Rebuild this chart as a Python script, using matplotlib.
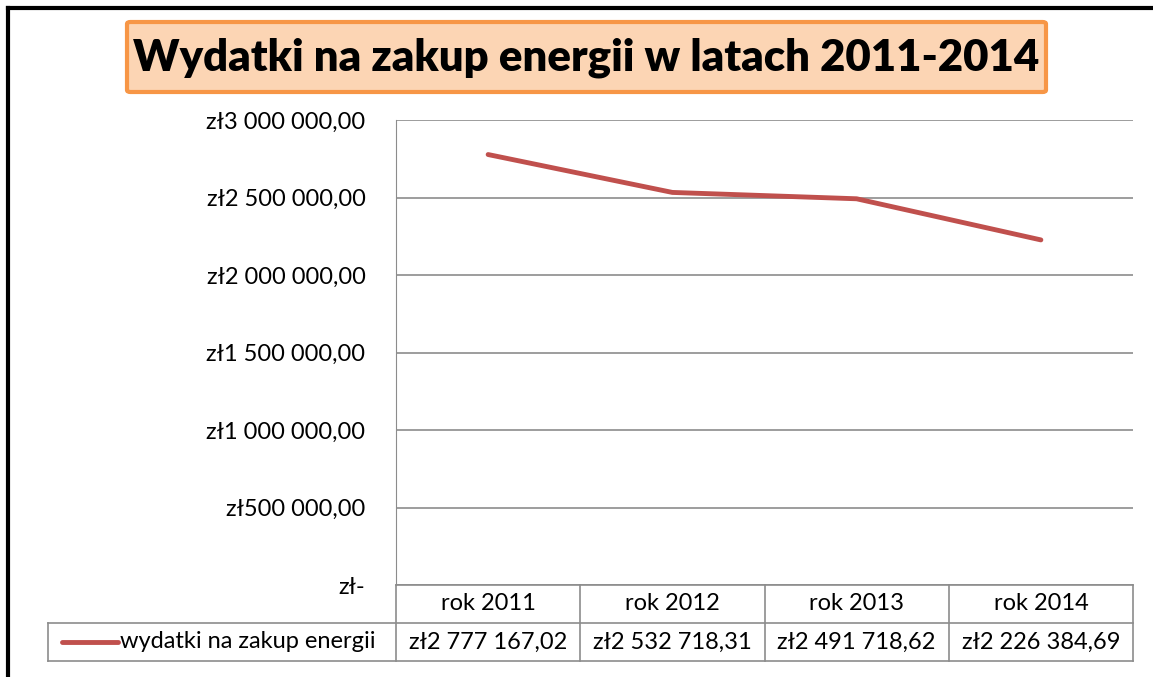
import matplotlib.pyplot as plt
from matplotlib.lines import Line2D
from matplotlib.patches import FancyBboxPatch

plt.rcParams['font.family'] = ['Lato', 'DejaVu Sans']

# dane
categories = ['rok 2011', 'rok 2012', 'rok 2013', 'rok 2014']
values = [2777167.02, 2532718.31, 2491718.62, 2226384.69]
series_name = 'wydatki na zakup energii'
y_ticks = [0, 500000, 1000000, 1500000, 2000000, 2500000, 3000000]

LINE_COLOR = '#C0504D'
GRID = '#8c8c8c'
W, H = 1153, 677
FS = 17


def zl(v):
    """format waluty jak w Excelu"""
    if v == 0:
        return 'zł-'
    s = f'{v:,.2f}'.replace(',', ' ').replace('.', ',')
    return 'zł' + s


fig = plt.figure(figsize=(W / 100, H / 100), dpi=100)
fig.patch.set_facecolor('white')

# ramka wykresu (lewa i gorna krawedz)
fig.add_artist(Line2D([8 / W, 8 / W], [0, 1 - 8 / H], color='black', lw=3))
fig.add_artist(Line2D([8 / W, 1], [1 - 8 / H, 1 - 8 / H], color='black', lw=3))

# tytul w pomaranczowej ramce
box = FancyBboxPatch((127 / W, 1 - 92 / H), (1046 - 127) / W, (92 - 22) / H,
                     boxstyle='round,pad=0,rounding_size=0.003',
                     transform=fig.transFigure, facecolor='#FCD5B4',
                     edgecolor='#F79646', lw=3)
fig.add_artist(box)
fig.text(586 / W, 1 - 58 / H, 'Wydatki na zakup energii w latach 2011-2014',
         ha='center', va='center', fontsize=31.5, weight='heavy', color='black')

left, right, top, bottom = 396, 1133, 120, 585
ax = fig.add_axes([left / W, 1 - bottom / H, (right - left) / W, (bottom - top) / H])

x = [i + 0.5 for i in range(len(categories))]
ax.plot(x, values, color=LINE_COLOR, lw=3.5, solid_capstyle='round')

ax.set_xlim(0, len(categories))
ax.set_ylim(0, 3000000)
ax.set_yticks(y_ticks)
ax.set_yticklabels([zl(v) for v in y_ticks], fontsize=FS)
ax.tick_params(axis='y', length=0, pad=22)
ax.set_xticks([])
ax.grid(axis='y', color=GRID, lw=1.2)
ax.set_axisbelow(True)
for s in ['top', 'right', 'bottom']:
    ax.spines[s].set_visible(False)
ax.spines['left'].set_color(GRID)

# tabela danych pod wykresem
px = (right - left) / len(categories)   # szerokosc kolumny w px
row = 38 / (bottom - top)              # wysokosc wiersza w jednostkach osi
tr = ax.get_xaxis_transform()
leg_x = (48 - left) / px

kw = dict(transform=tr, color=GRID, lw=1.2, clip_on=False)
ax.plot([0, len(categories)], [0, 0], **kw)
ax.plot([leg_x, len(categories)], [-row, -row], **kw)
ax.plot([leg_x, len(categories)], [-2 * row, -2 * row], **kw)
ax.plot([0, 0], [0, -2 * row], **kw)
ax.plot([leg_x, leg_x], [-row, -2 * row], **kw)
for i in range(1, len(categories) + 1):
    ax.plot([i, i], [0, -2 * row], **kw)

for xi, cat, v in zip(x, categories, values):
    ax.text(xi, -row / 2, cat, transform=tr, ha='center', va='center', fontsize=FS)
    ax.text(xi, -1.5 * row, zl(v), transform=tr, ha='center', va='center', fontsize=FS)

# klucz legendy w tabeli
ax.plot([(62 - left) / px, (118 - left) / px], [-1.5 * row, -1.5 * row],
        transform=tr, color=LINE_COLOR, lw=3.5, clip_on=False, solid_capstyle='round')
ax.text((120 - left) / px, -1.5 * row, series_name, transform=tr,
        ha='left', va='center', fontsize=FS)

fig.savefig('out.png', dpi=100, facecolor='white')
